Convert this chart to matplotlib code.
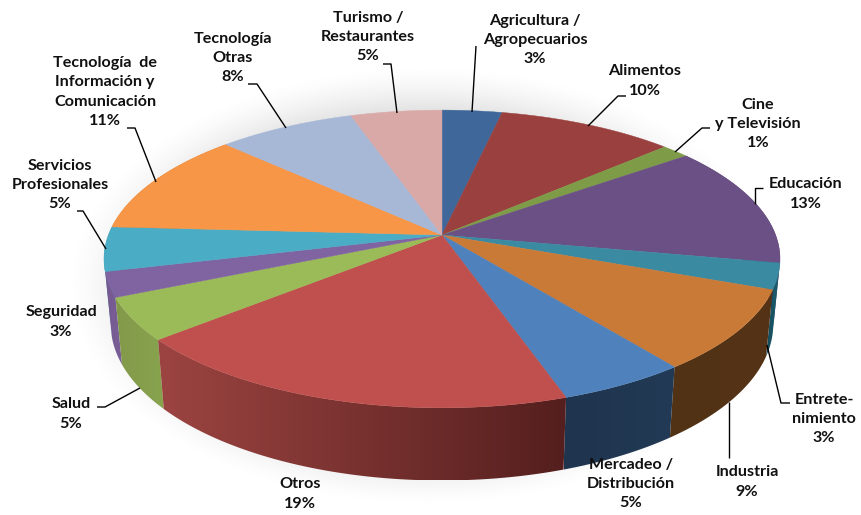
import numpy as np
import matplotlib
matplotlib.use("Agg")
import matplotlib.pyplot as plt
from matplotlib.colors import LinearSegmentedColormap
from matplotlib.patches import Polygon

# ---- data (slice sizes, labels as printed) ----
sectors = ["Agricultura /\nAgropecuarios", "Alimentos", "Cine\ny Televisión", "Educación",
           "Entrete-\nnimiento", "Industria", "Mercadeo /\nDistribución", "Otros", "Salud",
           "Seguridad", "Servicios\nProfesionales", "Tecnología  de\nInformación y\nComunicación",
           "Tecnología\nOtras", "Turismo /\nRestaurantes"]
printed_pct = [3, 10, 1, 13, 3, 9, 5, 19, 5, 3, 5, 11, 8, 5]
shares = [3.35, 9.9, 1.55, 13.2, 2.8, 8.8, 5.3, 18.9, 4.6, 2.7, 4.8, 11.3, 7.7, 5.1]
top_colors = ["#3f679a", "#9a403e", "#7e9c48", "#6a5084", "#3a8aa2", "#c97a37", "#4f81bd",
              "#c0504d", "#9bbb59", "#8064a2", "#4bacc6", "#f79646", "#a7b7d6", "#d9a9a8"]
wall_left = ["#2c486c", "#6c2d2b", "#586d32", "#4a385c", "#164a58", "#523214", "#1f344e",
             "#9c4441", "#82994a", "#75598f", "#3c8aa0", "#c47838", "#8592aa", "#ad8786"]
wall_right = ["#2c486c", "#6c2d2b", "#586d32", "#4a385c", "#1d6072", "#543316", "#223a55",
              "#541f1e", "#88a34e", "#7a5f98", "#3c8aa0", "#c47838", "#8592aa", "#ad8786"]

# ---- layout of the perspective pie ----
CX, CY = 442, 235
A, B, K = 333.6, 145.0, 0.161


def top_xy(theta):
    d = 1 + K * np.cos(theta)
    return CX + A * np.sin(theta) / d, CY - B * np.cos(theta) / d


def bottom_xy(theta):
    x, y = top_xy(theta)
    return CX + 0.98 * (x - CX), CY + 64 + 1.05 * (y - CY)


fig = plt.figure(figsize=(8.61, 5.15), dpi=100, facecolor="white")
ax = fig.add_axes([0, 0, 1, 1])

# soft shadow
yy, xx = np.mgrid[0:515, 0:861]
rho = np.hypot((xx - 425) / 362, (yy - 285) / 222)
alpha = np.clip((1.0 - rho) / 0.22, 0, 1) ** 1.5 * 0.12
img = np.zeros((515, 861, 4))
img[..., 3] = alpha
ax.imshow(img, extent=(0, 861, 515, 0), zorder=0, aspect="auto", interpolation="bilinear")

# angular bounds from the values
edges = np.concatenate([[0], np.cumsum(shares)]) / np.sum(shares) * 2 * np.pi

# walls, drawn from the sides towards the front, each a clipped horizontal gradient
ramp = np.linspace(0, 1, 256)[None, :]
order = sorted(range(len(shares)), key=lambda k: -np.cos((edges[k] + edges[k + 1]) / 2))
for i in order:
    if np.cos(edges[i]) > 0.2 and np.cos(edges[i + 1]) > 0.2:
        continue
    ts = np.linspace(edges[i], edges[i + 1], 120)
    xt, yt = top_xy(ts)
    xb, yb = bottom_xy(ts)
    xs, ys = np.r_[xt, xb[::-1]], np.r_[yt, yb[::-1]]
    cmap = LinearSegmentedColormap.from_list("w", [wall_left[i], wall_right[i]])
    poly = Polygon(np.c_[xs, ys], closed=True, transform=ax.transData, fc="none", ec="none")
    ax.add_patch(poly)
    im = ax.imshow(ramp, cmap=cmap, extent=(xs.min(), xs.max(), ys.max(), ys.min()),
                   aspect="auto", zorder=2, interpolation="bilinear")
    im.set_clip_path(poly)

# top wedges
for i in range(len(shares)):
    ts = np.linspace(edges[i], edges[i + 1], 80)
    x, y = top_xy(ts)
    ax.fill(np.r_[CX, x], np.r_[CY, y], color=top_colors[i], lw=0.3, zorder=3)

# leader lines
leaders = {
    0: [(472, 112), (476, 46)],
    1: [(588, 126), (618, 96), (626, 96)],
    2: [(675, 152), (702, 128), (710, 128)],
    3: [(755, 204), (755, 188), (763, 188)],
    4: [(767, 345), (781, 403), (790, 403)],
    5: [(729, 402), (729, 458)],
    8: [(140, 388), (105, 407), (97, 407)],
    10: [(106, 249), (83, 211), (77, 211)],
    11: [(156, 182), (135, 128), (127, 128)],
    12: [(286, 128), (257, 84), (248, 84)],
    13: [(397, 113), (391, 64), (383, 64)],
}
for i, pts in leaders.items():
    px, py = zip(*pts)
    ax.plot(px, py, color="black", lw=1.0, zorder=4, solid_capstyle="butt")

# labels
label_xy = [(535, 40), (645, 81), (758, 124), (806, 194), (824, 419), (747, 482), (631, 484),
            (300, 494), (71, 414), (61, 322), (60, 185), (105, 92), (233, 58), (368, 37)]
for name, pct, (lx, ly) in zip(sectors, printed_pct, label_xy):
    ax.text(lx, ly, f"{name}\n{pct}%", ha="center", va="center", ma="center",
            fontsize=11.6, fontweight="bold", family="Lato", color="#111111",
            linespacing=1.47, zorder=5)

ax.set_xlim(0, 861)
ax.set_ylim(515, 0)
ax.axis("off")
fig.savefig("out.png", dpi=100)
